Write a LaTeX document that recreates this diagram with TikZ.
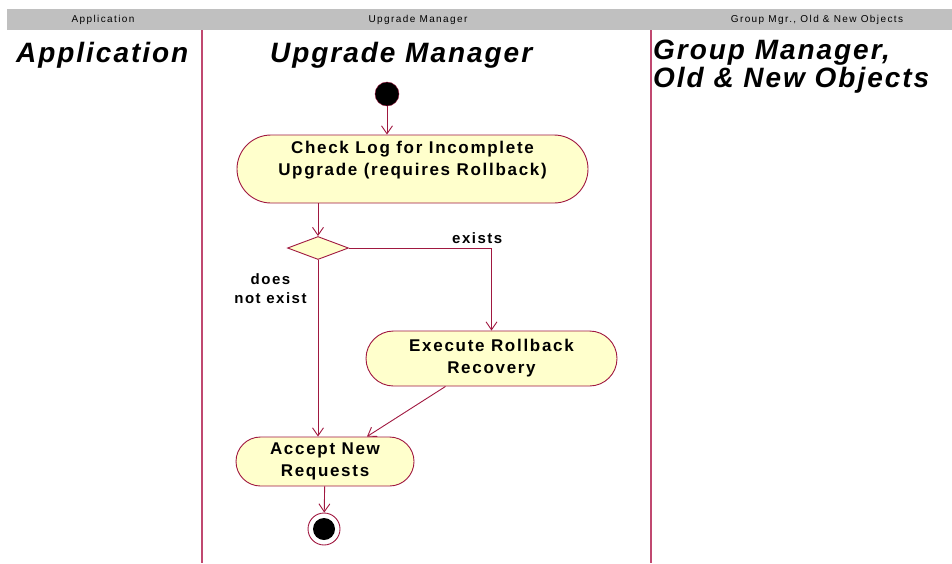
\documentclass[tikz,border=0pt]{standalone}
\usepackage{fontspec}
\setmainfont{Liberation Sans}
\newfontfamily\titlefont[LetterSpace=7]{Liberation Sans}
\newfontfamily\boxfont[LetterSpace=10]{Liberation Sans}
\newfontfamily\headfont[LetterSpace=14]{Liberation Sans}
\usetikzlibrary{shapes.misc,shapes.geometric,arrows.meta}
\definecolor{lanered}{RGB}{192,72,112}
\definecolor{flowred}{RGB}{160,24,64}
\definecolor{actfill}{RGB}{255,255,204}
\definecolor{headgray}{RGB}{192,192,192}
\tikzset{
	head/.style={inner sep=0pt,font=\headfont\fontsize{10}{12}\selectfont},
	lanetitle/.style={anchor=base west,inner sep=0pt,align=left,font=\titlefont\bfseries\itshape\fontsize{28}{25}\selectfont},
	lane/.style={draw=lanered,line width=1.2pt},
	activity/.style={rounded rectangle,draw=flowred,fill=actfill,line width=0.9pt,align=center,inner sep=0pt,font=\boxfont\bfseries\fontsize{17}{22}\selectfont},
	decision/.style={diamond,draw=flowred,fill=actfill,line width=0.9pt,inner sep=0pt,aspect=2.6,minimum width=61pt,minimum height=23pt},
	initial/.style={circle,fill=black,draw=flowred,inner sep=0pt,minimum size=24pt},
	final/.style={circle,draw=flowred,line width=0.9pt,inner sep=0pt,minimum size=32pt},
	flow/.style={draw=flowred,line width=0.9pt,-{Straight Barb[length=8pt,width=11pt]}},
	guard/.style={inner sep=0pt,align=center,font=\boxfont\bfseries\fontsize{15}{19}\selectfont}
}
\begin{document}
\begin{tikzpicture}[x=1pt,y=-1pt]%UPGRADE ROLLBACK ACTIVITY
		\useasboundingbox (0,0) rectangle (952,563);
		% swimlanes
		\fill[headgray] (7,9) rectangle (952,30);
		\node[head] (hApp) at (103,19.5) {Application};
		\node[head] (hUpg) at (418,19.5) {Upgrade Manager};
		\node[head] (hGrp) at (817,19.5) {Group Mgr., Old \& New Objects};
		\draw[lane] (202,30)--(202,563);
		\draw[lane] (651,30)--(651,563);
		\node[lanetitle] (tApp) at (16,62) {Application};
		\node[lanetitle] (tUpg) at (270,62) {Upgrade Manager};
		\node[lanetitle] (tGrp) at (653,87) {Group Manager,\\Old \& New Objects};
		% activities
		\node[initial] (start) at (387,94) {};
		\node[activity,minimum width=351pt,minimum height=68pt,text depth=22pt] (check) at (412.5,169) {Check Log for Incomplete\\Upgrade (requires Rollback)};
		\node[decision] (dec) at (318,248) {};
		\node[activity,minimum width=251pt,minimum height=55pt] (exec) at (491.5,358.5) {Execute Rollback\\Recovery};
		\node[activity,minimum width=178pt,minimum height=49pt] (accept) at (325,461.5) {Accept New\\Requests};
		\node[final] (stop) at (324,529) {};
		\fill (stop) circle (11pt);
		% transitions
		\draw[flow] (start) -- (start |- check.north);
		\draw[flow] (check.south -| dec) -- (dec.north);
		\draw[flow] (dec.east) -| node[guard,pos=0.45,above=4pt] {exists} (exec.north);
		\draw[flow] (dec.south) -- node[guard,pos=0.16,left=11pt] {does\\not exist} (dec.south |- accept.north);
		\draw[flow] ([xshift=-46pt]exec.south) -- ([xshift=42pt]accept.north);
		\draw[flow] (accept) -- (stop);
\end{tikzpicture}
\end{document}
